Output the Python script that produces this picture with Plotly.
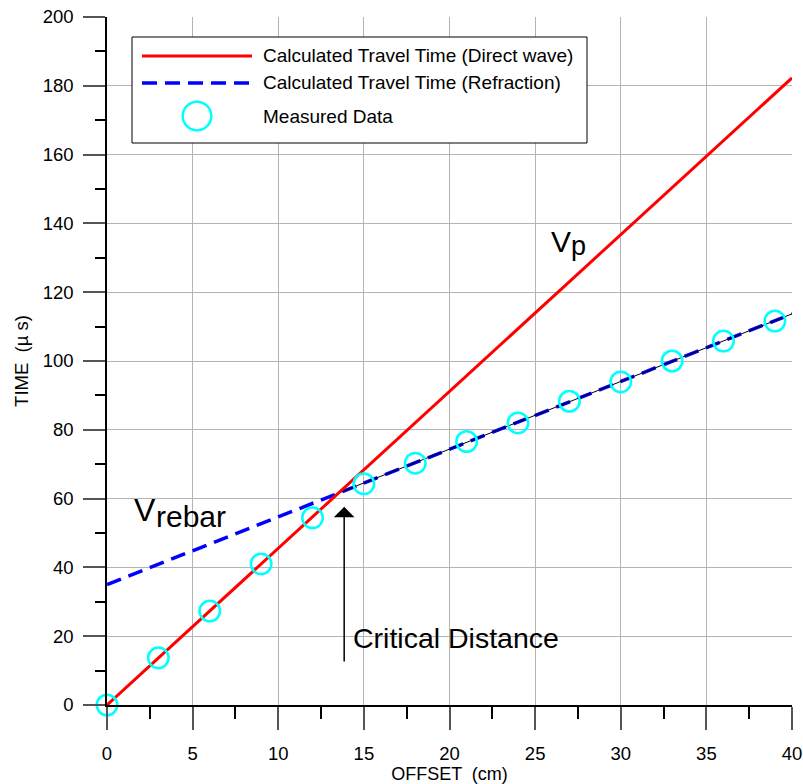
import plotly.graph_objects as go

# ---- data ----
offset_measured = [0, 3, 6, 9, 12, 15, 18, 21, 24, 27, 30, 33, 36, 39]
time_measured = [0, 13.7, 27.3, 41.0, 54.4, 64.3, 70.3, 76.6, 82.0, 88.3, 93.9, 100.0, 105.8, 111.6]

direct_x = [0, 40]
direct_y = [0, 182.3]

refr_x = [0, 40]
refr_y = [35.0, 113.7]

fit_x = [13.6, 40]
fit_y = [61.8, 113.7]

x_ticks = [0, 5, 10, 15, 20, 25, 30, 35, 40]
y_ticks = [0, 20, 40, 60, 80, 100, 120, 140, 160, 180, 200]

legend_labels = ["Calculated Travel Time (Direct wave)",
                 "Calculated Travel Time (Refraction)",
                 "Measured Data"]

FONT = "Liberation Sans, Arial, sans-serif"

fig = go.Figure()
fig.add_trace(go.Scatter(x=refr_x, y=refr_y, mode="lines",
                         line=dict(color="#0000ff", width=3.5, dash="15px,8px"),
                         showlegend=False))
fig.add_trace(go.Scatter(x=fit_x, y=fit_y, mode="lines",
                         line=dict(color="black", width=1), showlegend=False))
fig.add_trace(go.Scatter(x=direct_x, y=direct_y, mode="lines",
                         line=dict(color="#ff0000", width=3), showlegend=False))
fig.add_trace(go.Scatter(x=offset_measured, y=time_measured, mode="markers",
                         marker=dict(symbol="circle-open", size=20.5, color="#00ffff",
                                     line=dict(width=2.5)),
                         cliponaxis=False, showlegend=False))

# ---- manual legend ----
def px_x(p):
    return (p - 107) / 685.0

def px_y(p):
    return (705 - p) / 688.0

shapes = [
    dict(type="rect", xref="paper", yref="paper", x0=px_x(132), x1=px_x(587),
         y0=px_y(143), y1=px_y(37), line=dict(color="black", width=1),
         fillcolor="white", layer="above"),
    dict(type="line", xref="paper", yref="paper", x0=px_x(142), x1=px_x(252),
         y0=px_y(56), y1=px_y(56), line=dict(color="#ff0000", width=3), layer="above"),
    dict(type="line", xref="paper", yref="paper", x0=px_x(142), x1=px_x(252),
         y0=px_y(83), y1=px_y(83), line=dict(color="#0000ff", width=3.5, dash="15px,8px"),
         layer="above"),
    dict(type="circle", xref="paper", yref="paper", xsizemode="pixel", ysizemode="pixel",
         xanchor=px_x(197), yanchor=px_y(116), x0=-14.3, x1=14.3, y0=-14.3, y1=14.3,
         line=dict(color="#00ffff", width=2.5), layer="above"),
]

annotations = []
for lab, py in zip(legend_labels, [56, 83, 116]):
    annotations.append(dict(xref="paper", yref="paper", x=px_x(261), y=px_y(py),
                            text=lab, showarrow=False, xanchor="left", yanchor="middle",
                            font=dict(family=FONT, size=19, color="black")))

# text labels in the plot
annotations += [
    dict(x=25.8, y=134.8, text="V", showarrow=False, xanchor="left", yanchor="middle",
         font=dict(family=FONT, size=30, color="black")),
    dict(x=26.95, y=133.4, text="p", showarrow=False, xanchor="left", yanchor="middle",
         font=dict(family=FONT, size=27, color="black")),
    dict(x=1.45, y=56.6, text="V", showarrow=False, xanchor="left", yanchor="middle",
         font=dict(family=FONT, size=32, color="black")),
    dict(x=2.72, y=54.9, text="rebar", showarrow=False, xanchor="left", yanchor="middle",
         font=dict(family=FONT, size=30, color="black")),
    dict(x=14.22, y=19.5, text="Critical Distance", showarrow=False, xanchor="left",
         yanchor="middle", font=dict(family=FONT, size=28.5, color="black")),
    dict(x=13.85, y=57.6, ax=13.85, ay=12.2, xref="x", yref="y", axref="x", ayref="y",
         text="", showarrow=True, arrowhead=1, arrowsize=2.3, arrowwidth=1.5,
         arrowcolor="black", standoff=0),
]

fig.update_layout(
    width=803, height=784,
    margin=dict(l=107, r=11, t=17, b=79),
    paper_bgcolor="white", plot_bgcolor="white",
    font=dict(family=FONT, size=17, color="black"),
    shapes=shapes, annotations=annotations,
    showlegend=False,
)

fig.update_xaxes(
    range=[0, 40], tickvals=x_ticks, ticktext=[str(v) for v in x_ticks],
    ticks="outside", ticklen=23, tickwidth=1.5, tickcolor="#555",
    showline=True, linecolor="black", linewidth=1.5,
    showgrid=True, gridcolor="#b4b4b4", gridwidth=1, zeroline=False,
    minor=dict(dtick=2.5, tick0=0, ticks="outside", ticklen=12, tickwidth=1.5,
               tickcolor="black", showgrid=False),
    tickfont=dict(size=18.5), ticklabelstandoff=8, automargin=False,
    title=dict(text="OFFSET  (cm)", font=dict(size=18), standoff=0),
)
fig.update_yaxes(
    range=[0, 200], tickvals=y_ticks, ticktext=[str(v) for v in y_ticks],
    ticks="outside", ticklen=22, tickwidth=1.5, tickcolor="#555",
    showline=True, linecolor="black", linewidth=1.5,
    showgrid=True, gridcolor="#b4b4b4", gridwidth=1, zeroline=False,
    minor=dict(dtick=10, tick0=0, ticks="outside", ticklen=10, tickwidth=1.5,
               tickcolor="black", showgrid=False),
    tickfont=dict(size=18.5), ticklabelstandoff=6, automargin=False,
    title=dict(text="TIME  (\u00b5 s)", font=dict(size=18.5), standoff=9),
)

fig.write_html("out.html")
